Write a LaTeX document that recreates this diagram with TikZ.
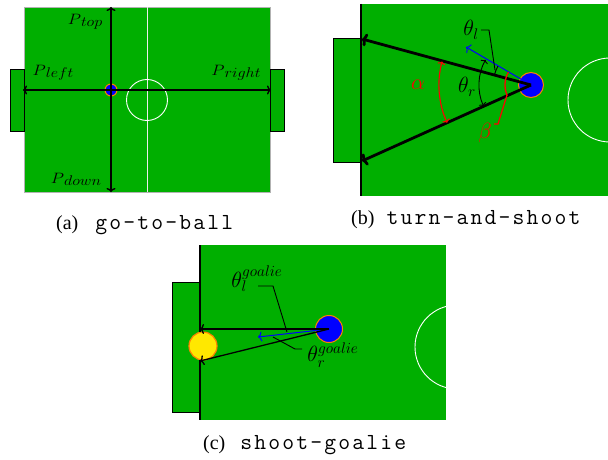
\RequirePackage{fix-cm}
\documentclass[tikz,border=0pt]{standalone}
\usepackage{graphicx}
\usepackage{fontspec}
\setmainfont{Liberation Serif}
\usetikzlibrary{arrows.meta,calc}
\definecolor{fieldgreen}{RGB}{0,175,0}
\definecolor{ballorange}{RGB}{255,128,0}
\definecolor{goalieyellow}{RGB}{255,232,0}
\tikzset{
  field/.style={fill=fieldgreen},
  goalbox/.style={fill=fieldgreen, draw=black, line width=0.8},
  centerline/.style={draw=white, line width=0.9},
  ballstyle/.style={fill=blue, draw=ballorange, line width=1},
  goaliestyle/.style={fill=goalieyellow, draw=ballorange, line width=1.2},
  axisarrow/.style={line width=1.4, {Computer Modern Rightarrow[length=4pt,width=9pt]}-{Computer Modern Rightarrow[length=4pt,width=9pt]}},
  thickarrow/.style={line width=2.8, -{Computer Modern Rightarrow[length=5pt,width=13pt]}},
  thinarrow/.style={line width=1.3, -{Computer Modern Rightarrow[length=4pt,width=10pt]}},
  bluearrow/.style={draw=blue, line width=1, -{Computer Modern Rightarrow[length=4pt,width=10pt]}},
  anglearc/.style={line width=0.9, {Computer Modern Rightarrow[length=3pt,width=8pt]}-{Computer Modern Rightarrow[length=3pt,width=8pt]}},
  leader/.style={line width=0.9},
  plbl/.style={inner sep=0pt},
  tlbl/.style={font=\fontsize{22}{24}\selectfont, inner sep=0pt},
  glbl/.style={font=\fontsize{22}{24}\selectfont, inner sep=0pt},
  captext/.style={font=\fontsize{20}{22}\selectfont, inner sep=0pt, anchor=base west},
}
\makeatletter
\newcommand{\capmono}[1]{{\fontsize{23}{25}\selectfont\ttfamily\capmono@loop#1\@nil}}
\def\capmono@loop#1{\ifx#1\@nil\else\makebox[14pt][c]{#1}\expandafter\capmono@loop\fi}
\makeatother
\newcommand{\plab}[1]{\scalebox{1.15}[1]{\fontsize{15}{17}\selectfont$P$\raisebox{-2pt}{\fontsize{14}{16}\selectfont$#1$}}}
\begin{document}
\begin{tikzpicture}[x=1pt,y=-1pt]
\useasboundingbox[fill=white] (0,0) rectangle (608,460);

% ---------- (a) go-to-ball ----------
\fill[field, draw=gray!60, line width=0.8] (24,7) rectangle (270,192);
\draw[goalbox] (10,69) rectangle (24,131);
\draw[goalbox] (270,69) rectangle (284,131);
\draw[centerline, draw=white!85!gray] (147,7) -- (147,192);
\draw[centerline] (147,100) circle (20.5);
\filldraw[ballstyle] (111,90) circle (6);
\coordinate (atop) at (111,7);
\coordinate (adown) at (111,192);
\coordinate (aleft) at (23,90);
\coordinate (aright) at (271,90);
\draw[axisarrow] (atop) -- (adown);
\draw[axisarrow] (aleft) -- (aright);
\node[plbl] (ptop) at (85,22) {\plab{top}};
\node[plbl] (pleft) at (53,73) {\plab{left}};
\node[plbl] (pright) at (236,73) {\plab{right}};
\node[plbl] (pdown) at (76,179) {\plab{down}};

% ---------- (b) turn-and-shoot ----------
\fill[field] (361,4) rectangle (608,196);
\draw[goalbox] (333,38) rectangle (361,162);
\draw[line width=1.6] (361,4) -- (361,196);
\begin{scope}
  \clip (361,4) rectangle (608,196);
  \draw[centerline] (610,100) circle (42);
\end{scope}
\filldraw[ballstyle] (531,85) circle (12.5);
\coordinate (bball) at (531,85);
\coordinate (bpostT) at (362,39);
\coordinate (bpostB) at (362,161);
\coordinate (bdir) at (466,47);
\draw[thickarrow] (bball) -- (bpostT);
\draw[thickarrow] (bball) -- (bpostB);
\draw[bluearrow] ($(bball)!0.15!(bdir)$) -- (bdir);
% alpha
\draw[anglearc, red, line width=1.1] (bball) ++(194.8:92) arc[start angle=194.8, end angle=155.8, radius=92];
\node[tlbl, text=red] (alpha) at (418,85) {$\alpha$};
% theta_r
\draw[anglearc] (bball) ++(209:52) arc[start angle=209, end angle=156, radius=52];
\node[tlbl] (thr) at (467,87) {$\theta_r$};
% theta_l
\draw[line width=0.9] (bball) ++(210:38) arc[start angle=210, end angle=195, radius=38];
\node[tlbl] (thl) at (471,30) {$\theta_l$};
\coordinate (thlk) at (489,30);
\coordinate (thlend) at (495,70);
\coordinate (thlstart) at (481,30);
\draw[leader] (thlstart) -- (thlk) -- (thlend);
% beta
\draw[red, line width=1.3] (bball) ++(210:26) arc[start angle=210, end angle=156, radius=26];
\node[tlbl, text=red] (beta) at (485,133) {$\beta$};
\coordinate (betas) at (494,124);
\coordinate (betak) at (498,124);
\coordinate (betaend) at (507,95);
\draw[leader, red, line width=1.2] (betas) -- (betak) -- (betaend);

% ---------- (c) shoot-goalie ----------
\fill[field] (200,245) rectangle (446,420);
\draw[goalbox] (172,282) rectangle (200,412);
\begin{scope}
  \clip (200,245) rectangle (446,420);
  \draw[centerline] (457,347) circle (42);
\end{scope}
\filldraw[goaliestyle] (203,346) circle (14);
\draw[line width=1.4] (200,245) -- (200,332);
\draw[line width=1.4] (200,360) -- (200,420);
\filldraw[ballstyle] (329,329) circle (13.5);
\coordinate (cball) at (329,329);
\coordinate (cpostT) at (200,329);
\coordinate (cpostB) at (200,361);
\coordinate (cdir) at (258,337);
\draw[thinarrow] (cball) -- (cpostT);
\draw[thinarrow] (cball) -- (cpostB);
\draw[bluearrow] ($(cball)!0.18!(cdir)$) -- (cdir);
\node[glbl] (thlg) at (257,279) {$\theta_l^{goalie}$};
\node[glbl] (thrg) at (333,355) {$\theta_r^{goalie}$};
\coordinate (lgs) at (258,286);
\coordinate (lgk) at (273,286);
\coordinate (lge) at (287,332);
\draw[leader] (lgs) -- (lgk) -- (lge);
\coordinate (rgs) at (302,349);
\coordinate (rgk) at (295,349);
\coordinate (rge) at (273,337);
\draw[leader] (rgs) -- (rgk) -- (rge);

% ---------- captions ----------
\node[captext] (capa) at (56,229) {(a)\hspace{16pt}\capmono{go-to-ball}};
\node[captext] (capb) at (351,224.5) {(b)\hspace{11pt}\capmono{turn-and-shoot}};
\node[captext] (capc) at (203,449) {(c)\hspace{14pt}\capmono{shoot-goalie}};
\end{tikzpicture}
\end{document}
